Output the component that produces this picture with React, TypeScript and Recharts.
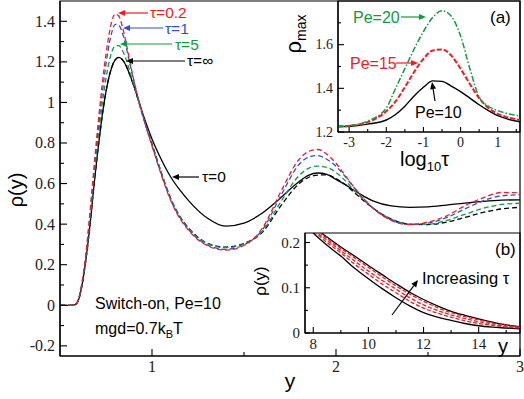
import React from "react";
import { LineChart, Line, XAxis, YAxis, ReferenceArea } from "recharts";

/* ── main panel: density profiles rho(y) ───────────────────────────────── */

const yPos = [
  0.5, 0.55, 0.58, 0.6, 0.62, 0.64, 0.66, 0.68, 0.7, 0.72, 0.74, 0.76, 0.78, 0.8, 0.82, 0.84, 0.86, 0.88, 0.9,
  0.95, 1.0, 1.05, 1.1, 1.15, 1.2, 1.3, 1.4, 1.5, 1.6, 1.7, 1.8, 1.85, 1.9, 1.95, 2.0, 2.05, 2.1, 2.2, 2.3, 2.4,
  2.5, 2.6, 2.7, 2.8, 2.9, 3.0,
];
const tauZero = [
  0, 0, 0.002, 0.025, 0.1, 0.22, 0.37, 0.55, 0.72, 0.87, 1.0, 1.1, 1.17, 1.21, 1.222, 1.21, 1.18, 1.135, 1.085,
  0.945, 0.82, 0.72, 0.635, 0.57, 0.515, 0.43, 0.39, 0.405, 0.455, 0.53, 0.61, 0.64, 0.652, 0.645, 0.62, 0.595,
  0.565, 0.515, 0.49, 0.483, 0.485, 0.494, 0.504, 0.512, 0.518, 0.52,
];
const tauInf = [
  0, 0, 0.002, 0.025, 0.1, 0.22, 0.37, 0.55, 0.72, 0.87, 1.0, 1.1, 1.17, 1.21, 1.222, 1.21, 1.18, 1.135, 1.085,
  0.935, 0.795, 0.655, 0.53, 0.44, 0.38, 0.307, 0.287, 0.305, 0.36, 0.49, 0.6, 0.63, 0.642, 0.643, 0.625, 0.595,
  0.555, 0.48, 0.425, 0.4, 0.398, 0.41, 0.433, 0.458, 0.475, 0.483,
];
const tauFive = [
  0, 0, 0.002, 0.027, 0.105, 0.23, 0.39, 0.58, 0.76, 0.92, 1.06, 1.17, 1.245, 1.278, 1.28, 1.255, 1.21, 1.15, 1.09,
  0.935, 0.795, 0.655, 0.53, 0.44, 0.378, 0.305, 0.284, 0.303, 0.365, 0.51, 0.64, 0.675, 0.686, 0.68, 0.655, 0.615,
  0.565, 0.48, 0.425, 0.4, 0.4, 0.418, 0.448, 0.478, 0.497, 0.503,
];
const tauOne = [
  0, 0, 0.002, 0.028, 0.11, 0.24, 0.41, 0.61, 0.8, 0.97, 1.12, 1.25, 1.34, 1.385, 1.38, 1.34, 1.27, 1.19, 1.11,
  0.935, 0.79, 0.65, 0.525, 0.435, 0.372, 0.298, 0.276, 0.298, 0.372, 0.54, 0.695, 0.73, 0.738, 0.72, 0.685, 0.635,
  0.578, 0.48, 0.42, 0.398, 0.405, 0.432, 0.475, 0.515, 0.54, 0.545,
];
const tauPointTwo = [
  0, 0, 0.002, 0.03, 0.115, 0.25, 0.43, 0.63, 0.83, 1.01, 1.17, 1.3, 1.395, 1.436, 1.425, 1.37, 1.29, 1.2, 1.115,
  0.935, 0.785, 0.645, 0.52, 0.43, 0.368, 0.294, 0.272, 0.295, 0.38, 0.56, 0.72, 0.758, 0.768, 0.745, 0.7, 0.64,
  0.58, 0.48, 0.418, 0.398, 0.41, 0.44, 0.49, 0.53, 0.556, 0.555,
];
const mainXTicks = [1, 1.5, 2, 2.5, 3];
const mainXMajor = [1, 2, 3];
const mainYTicks = [-0.2, -0.1, 0, 0.1, 0.2, 0.3, 0.4, 0.5, 0.6, 0.7, 0.8, 0.9, 1, 1.1, 1.2, 1.3, 1.4];
const mainYMajor = [-0.2, 0, 0.2, 0.4, 0.6, 0.8, 1, 1.2, 1.4];

/* ── inset (a): rho_max vs log10 tau ───────────────────────────────────── */

const logTau = [-3.3, -3, -2.5, -2, -1.75, -1.5, -1.25, -1, -0.75, -0.5, -0.25, 0, 0.25, 0.5, 0.75, 1, 1.25, 1.6];
const pe10 = [1.225, 1.226, 1.236, 1.255, 1.28, 1.318, 1.365, 1.405, 1.434, 1.432, 1.41, 1.385, 1.355, 1.325, 1.298, 1.275, 1.26, 1.247];
const pe15 = [1.225, 1.228, 1.245, 1.295, 1.34, 1.405, 1.475, 1.535, 1.573, 1.578, 1.55, 1.49, 1.42, 1.355, 1.31, 1.283, 1.268, 1.255];
const pe20 = [1.225, 1.229, 1.25, 1.31, 1.4, 1.49, 1.58, 1.66, 1.725, 1.755, 1.73, 1.64, 1.49, 1.36, 1.318, 1.298, 1.285, 1.273];
const aXTicks = [-3, -2.5, -2, -1.5, -1, -0.5, 0, 0.5, 1, 1.5];
const aXMajor = [-3, -2, -1, 0, 1];
const aYTicks = [1.2, 1.3, 1.4, 1.5, 1.6, 1.7];
const aYMajor = [1.2, 1.4, 1.6];

/* ── inset (b): tails at large y ──────────────────────────────────────── */

const yTail = [7.7, 8, 8.5, 9, 9.5, 10, 10.5, 11, 11.5, 12, 12.5, 13, 13.5, 14, 14.5, 15, 15.5];
const tailLow = [0.24, 0.221, 0.194, 0.17, 0.143, 0.12, 0.098, 0.078, 0.06, 0.045, 0.035, 0.028, 0.021, 0.016, 0.013, 0.011, 0.009];
const tailHigh = [0.25, 0.235, 0.212, 0.19, 0.17, 0.149, 0.129, 0.109, 0.09, 0.074, 0.06, 0.048, 0.039, 0.031, 0.024, 0.018, 0.014];
const tailRed1 = [0.249, 0.233, 0.209, 0.187, 0.166, 0.145, 0.124, 0.104, 0.086, 0.07, 0.056, 0.045, 0.036, 0.029, 0.022, 0.017, 0.013];
const tailRed2 = [0.246, 0.229, 0.205, 0.182, 0.159, 0.137, 0.116, 0.097, 0.078, 0.062, 0.05, 0.04, 0.032, 0.025, 0.02, 0.015, 0.012];
const tailRed3 = [0.243, 0.226, 0.2, 0.177, 0.152, 0.13, 0.108, 0.089, 0.07, 0.055, 0.044, 0.035, 0.027, 0.021, 0.017, 0.013, 0.011];
const bXTicks = [8, 9, 10, 11, 12, 13, 14, 15];
const bXMajor = [8, 10, 12, 14];
const bYTicks = [0, 0.05, 0.1, 0.15, 0.2];
const bYMajor = [0, 0.1, 0.2];

const RED = "#ee1c25";
const BLUE = "#2e4fd6";
const GREEN = "#119a3e";
const serif = "Liberation Serif, DejaVu Serif, serif";
const sans = "Liberation Sans, Arial, sans-serif";

const mainData = yPos.map((y, i) => ({
  y,
  t0: tauZero[i],
  tinf: tauInf[i],
  t5: tauFive[i],
  t1: tauOne[i],
  t02: tauPointTwo[i],
}));
const aData = logTau.map((x, i) => ({ x, p10: pe10[i], p15: pe15[i], p20: pe20[i] }));
const bData = yTail.map((x, i) => ({
  x,
  lo: tailLow[i],
  hi: tailHigh[i],
  r1: tailRed1[i],
  r2: tailRed2[i],
  r3: tailRed3[i],
}));

const isIn = (list: number[], v: number) => list.some((m) => Math.abs(m - v) < 1e-6);

// inward ticks: recharts gives the axis position when tickSize/tickMargin are 0
function leftTick(major: number[], big: number, small: number, size: number) {
  return (p: any) => {
    const v = p.payload.value;
    const mj = isIn(major, v);
    return (
      <g>
        <line x1={p.x} x2={p.x + (mj ? big : small)} y1={p.y} y2={p.y} stroke="#000" strokeWidth={1.1} />
        {mj && (
          <text
            x={p.x - 5}
            y={p.y}
            dy="0.34em"
            textAnchor="end"
            fill="#222"
            style={{ fontFamily: serif, fontSize: size }}
          >
            {String(v)}
          </text>
        )}
      </g>
    );
  };
}

function bottomTick(major: number[], big: number, small: number, size: number) {
  return (p: any) => {
    const v = p.payload.value;
    const mj = isIn(major, v);
    return (
      <g>
        <line x1={p.x} x2={p.x} y1={p.y} y2={p.y - (mj ? big : small)} stroke="#000" strokeWidth={1.1} />
        {mj && (
          <text
            x={p.x}
            y={p.y + 5}
            dy="0.71em"
            textAnchor="middle"
            fill="#222"
            style={{ fontFamily: serif, fontSize: size }}
          >
            {String(v)}
          </text>
        )}
      </g>
    );
  };
}

const axisLine = { stroke: "#000", strokeWidth: 1.2 };

function Arrow({ x1, y1, x2, y2, color }: { x1: number; y1: number; x2: number; y2: number; color: string }) {
  const a = Math.atan2(y2 - y1, x2 - x1);
  const l = 7;
  const w = 3;
  const bx = x2 - l * Math.cos(a);
  const by = y2 - l * Math.sin(a);
  const pts = `${x2},${y2} ${bx - w * Math.sin(a)},${by + w * Math.cos(a)} ${bx + w * Math.sin(a)},${by - w * Math.cos(a)}`;
  return (
    <g>
      <line x1={x1} y1={y1} x2={bx} y2={by} stroke={color} strokeWidth={1.2} />
      <polygon points={pts} fill={color} />
    </g>
  );
}

function MainPanel() {
  return (
    <LineChart width={524} height={399} data={mainData} margin={{ top: 1, right: 4, bottom: 0, left: 0 }}>
      <XAxis
        dataKey="y"
        type="number"
        domain={[0.5, 3]}
        ticks={mainXTicks}
        interval={0}
        tickSize={0}
        tickMargin={0}
        height={43}
        tick={bottomTick(mainXMajor, 7, 4, 16)}
        axisLine={axisLine}
        allowDataOverflow
      />
      <YAxis
        type="number"
        domain={[-0.25, 1.5]}
        ticks={mainYTicks}
        interval={0}
        tickSize={0}
        tickMargin={0}
        width={60}
        tick={leftTick(mainYMajor, 7, 4, 16)}
        axisLine={axisLine}
        allowDataOverflow
      />
      <ReferenceArea x1={0.5} x2={3} y1={-0.25} y2={1.5} fill="none" stroke="#000" strokeWidth={1.2} />
      <Line type="monotone" dataKey="t0" stroke="#000" strokeWidth={1.3} dot={false} isAnimationActive={false} />
      <Line type="monotone" dataKey="tinf" stroke="#000" strokeWidth={1.3} strokeDasharray="5 3" dot={false} isAnimationActive={false} />
      <Line type="monotone" dataKey="t5" stroke={GREEN} strokeWidth={1.3} strokeDasharray="5 3" dot={false} isAnimationActive={false} />
      <Line type="monotone" dataKey="t1" stroke={BLUE} strokeWidth={1.3} strokeDasharray="5 3" dot={false} isAnimationActive={false} />
      <Line type="monotone" dataKey="t02" stroke={RED} strokeWidth={1.3} strokeDasharray="5 3" dot={false} isAnimationActive={false} />
    </LineChart>
  );
}

function InsetA() {
  return (
    <LineChart width={254} height={175} data={aData} margin={{ top: 1, right: 4, bottom: 0, left: 0 }}>
      <XAxis
        dataKey="x"
        type="number"
        domain={[-3.3, 1.6]}
        ticks={aXTicks}
        interval={0}
        tickSize={0}
        tickMargin={0}
        height={43}
        tick={bottomTick(aXMajor, 5, 3, 14)}
        axisLine={axisLine}
        allowDataOverflow
      />
      <YAxis
        type="number"
        domain={[1.2, 1.8]}
        ticks={aYTicks}
        interval={0}
        tickSize={0}
        tickMargin={0}
        width={68}
        tick={leftTick(aYMajor, 6, 3, 14)}
        axisLine={axisLine}
        allowDataOverflow
      />
      <ReferenceArea x1={-3.3} x2={1.6} y1={1.2} y2={1.8} fill="none" stroke="#000" strokeWidth={1.2} />
      <Line type="monotone" dataKey="p10" stroke="#000" strokeWidth={1.4} dot={false} isAnimationActive={false} />
      <Line type="monotone" dataKey="p15" stroke={RED} strokeWidth={2} strokeDasharray="5 2" dot={false} isAnimationActive={false} />
      <Line type="monotone" dataKey="p20" stroke={GREEN} strokeWidth={1.5} strokeDasharray="6 2 1.5 2" dot={false} isAnimationActive={false} />
    </LineChart>
  );
}

function InsetB() {
  return (
    <LineChart width={284} height={135} data={bData} margin={{ top: 8, right: 4, bottom: 0, left: 0 }}>
      <XAxis
        dataKey="x"
        type="number"
        domain={[7.7, 15.5]}
        ticks={bXTicks}
        interval={0}
        tickSize={0}
        tickMargin={0}
        height={27}
        tick={bottomTick(bXMajor, 6, 3, 15)}
        axisLine={axisLine}
        allowDataOverflow
      />
      <YAxis
        type="number"
        domain={[0, 0.221]}
        ticks={bYTicks}
        interval={0}
        tickSize={0}
        tickMargin={0}
        width={65}
        tick={leftTick(bYMajor, 5, 3, 15)}
        axisLine={axisLine}
        allowDataOverflow
      />
      <ReferenceArea x1={7.7} x2={15.5} y1={0} y2={0.221} fill="none" stroke="#000" strokeWidth={1.2} />
      <Line type="monotone" dataKey="lo" stroke="#000" strokeWidth={1.3} dot={false} isAnimationActive={false} />
      <Line type="monotone" dataKey="hi" stroke="#000" strokeWidth={1.3} dot={false} isAnimationActive={false} />
      <Line type="monotone" dataKey="r1" stroke={RED} strokeWidth={1.3} strokeDasharray="4 2" dot={false} isAnimationActive={false} />
      <Line type="monotone" dataKey="r2" stroke={RED} strokeWidth={1.3} strokeDasharray="4 2" dot={false} isAnimationActive={false} />
      <Line type="monotone" dataKey="r3" stroke={RED} strokeWidth={1.3} strokeDasharray="4 2" dot={false} isAnimationActive={false} />
    </LineChart>
  );
}

function Annotations() {
  return (
    <svg width={524} height={399} style={{ position: "absolute", left: 0, top: 0, pointerEvents: "none" }}>
      <g style={{ fontFamily: sans, fontSize: 15.5 }}>
        {/* main panel */}
        <text x={150} y={18} fill={RED}>τ=0.2</text>
        <Arrow x1={148} y1={13} x2={118} y2={13} color={RED} />
        <text x={165} y={34} fill={BLUE}>τ=1</text>
        <Arrow x1={163} y1={28} x2={123} y2={28} color={BLUE} />
        <text x={175} y={50} fill={GREEN}>τ=5</text>
        <Arrow x1={172} y1={44} x2={120} y2={44} color={GREEN} />
        <text x={187} y={66} fill="#000">τ=∞</text>
        <Arrow x1={185} y1={61} x2={126} y2={61} color="#000" />
        <text x={202} y={182} fill="#000">τ=0</text>
        <Arrow x1={199} y1={177} x2={172} y2={177} color="#000" />
        <text x={95} y={309} fill="#000" style={{ fontSize: 16 }}>Switch-on, Pe=10</text>
        <text x={95} y={334} fill="#000" style={{ fontSize: 16 }}>
          mgd=0.7k<tspan style={{ fontSize: 11 }} dy={4}>B</tspan>
          <tspan dy={-4}>T</tspan>
        </text>
        <text x={290} y={388} textAnchor="middle" fill="#000" style={{ fontSize: 21 }}>y</text>
        <text x={23} y={190} textAnchor="middle" fill="#000" transform="rotate(-90 23 190)" style={{ fontSize: 20 }}>
          ρ(y)
        </text>

        {/* inset (a) */}
        <text x={353} y={23} fill={GREEN} style={{ fontSize: 16 }}>Pe=20</text>
        <Arrow x1={401} y1={17} x2={426} y2={17} color={GREEN} />
        <text x={350} y={69} fill={RED} style={{ fontSize: 16 }}>Pe=15</text>
        <Arrow x1={396} y1={63} x2={418} y2={63} color={RED} />
        <text x={415} y={118} fill="#000" style={{ fontSize: 16 }}>Pe=10</text>
        <Arrow x1={435} y1={101} x2={432} y2={82} color="#000" />
        <text x={490} y={23} fill="#000" style={{ fontSize: 17 }}>(a)</text>
        <text x={301} y={34} textAnchor="middle" fill="#000" transform="rotate(-90 301 34)" style={{ fontSize: 22 }}>
          ρ<tspan style={{ fontSize: 14 }} dy={5}>max</tspan>
        </text>
        <text x={400} y={166} fill="#000" style={{ fontSize: 20 }}>
          log<tspan style={{ fontSize: 13 }} dy={5}>10</tspan>
          <tspan dy={-5}>τ</tspan>
        </text>

        {/* inset (b) */}
        <text x={422} y={284} fill="#000" style={{ fontSize: 16.5 }}>Increasing τ</text>
        <Arrow x1={392} y1={315} x2={418} y2={280} color="#000" />
        <text x={495} y={255} fill="#000" style={{ fontSize: 17 }}>(b)</text>
        <text x={503} y={353} textAnchor="middle" fill="#000" style={{ fontSize: 20 }}>y</text>
        <text x={266} y={281} textAnchor="middle" fill="#000" transform="rotate(-90 266 281)" style={{ fontSize: 17 }}>
          ρ(y)
        </text>
      </g>
    </svg>
  );
}

export default function App() {
  return (
    <div style={{ position: "absolute", left: 0, top: 0, width: 524, height: 399, background: "#fff" }}>
      <div style={{ position: "absolute", left: 0, top: 0 }}>
        <MainPanel />
      </div>
      <div style={{ position: "absolute", left: 270, top: 0 }}>
        <InsetA />
      </div>
      <div style={{ position: "absolute", left: 240, top: 225 }}>
        <InsetB />
      </div>
      <Annotations />
    </div>
  );
}
